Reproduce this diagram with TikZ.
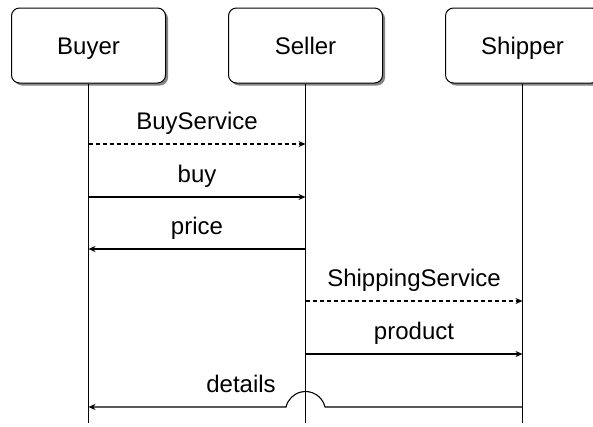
\documentclass[tikz,border=0pt]{standalone}
\usepackage{fontspec}
\setmainfont{Liberation Sans}
\usetikzlibrary{arrows.meta,shadows}
\begin{document}
\begin{tikzpicture}[x=1pt,y=-1pt,
  actor/.style={draw, line width=1pt, rounded corners=8pt, minimum width=154pt,
    minimum height=75pt, fill=white, inner sep=0pt, text height=23pt, text depth=5pt,
    font=\fontsize{24}{28}\selectfont,
    drop shadow={shadow xshift=2.5pt, shadow yshift=-2.5pt, opacity=0.6, fill=black!80}},
  life/.style={line width=1.3pt},
  msg/.style={line width=1.1pt, -{Stealth[length=7pt,width=6pt]}},
  async/.style={msg, dash pattern=on 4pt off 3pt},
  lbl/.style={anchor=base, inner sep=0pt, font=\fontsize{24}{28}\selectfont}]
\useasboundingbox (0,0) rectangle (593,426);
% actors
\node[actor] (buyer) at (88.5,45.5) {Buyer};
\node[actor] (seller) at (305.5,45.5) {Seller};
\node[actor] (shipper) at (522.5,45.5) {Shipper};
% lifelines
\coordinate (buyerEnd) at (88.5,423);
\coordinate (sellerEnd) at (305.5,423);
\coordinate (shipperEnd) at (522.5,423);
\draw[life] (buyer) -- (buyerEnd);
\draw[life] (seller) -- (sellerEnd);
\draw[life] (shipper) -- (shipperEnd);
% messages
\draw[async] (buyer.south |- 0,144) -- (seller.south |- 0,144);
\node[lbl] (lBuyService) at (197,129) {BuyService};
\draw[msg] (buyer.south |- 0,197) -- (seller.south |- 0,197);
\node[lbl] (lbuy) at (197,182) {buy};
\draw[msg] (seller.south |- 0,249) -- (buyer.south |- 0,249);
\node[lbl] (lprice) at (197,234.5) {price};
\draw[async] (seller.south |- 0,301) -- (shipper.south |- 0,301);
\node[lbl] (lShippingService) at (414,286.5) {ShippingService};
\draw[msg] (seller.south |- 0,354) -- (shipper.south |- 0,354);
\node[lbl] (lproduct) at (414,339) {product};
\draw[msg] (shipper.south |- 0,407) -- (325,407)
  arc[start angle=-13, end angle=-167, radius=20] -- (buyer.south |- 0,407);
\node[lbl] (ldetails) at (241,392) {details};
\end{tikzpicture}
\end{document}
